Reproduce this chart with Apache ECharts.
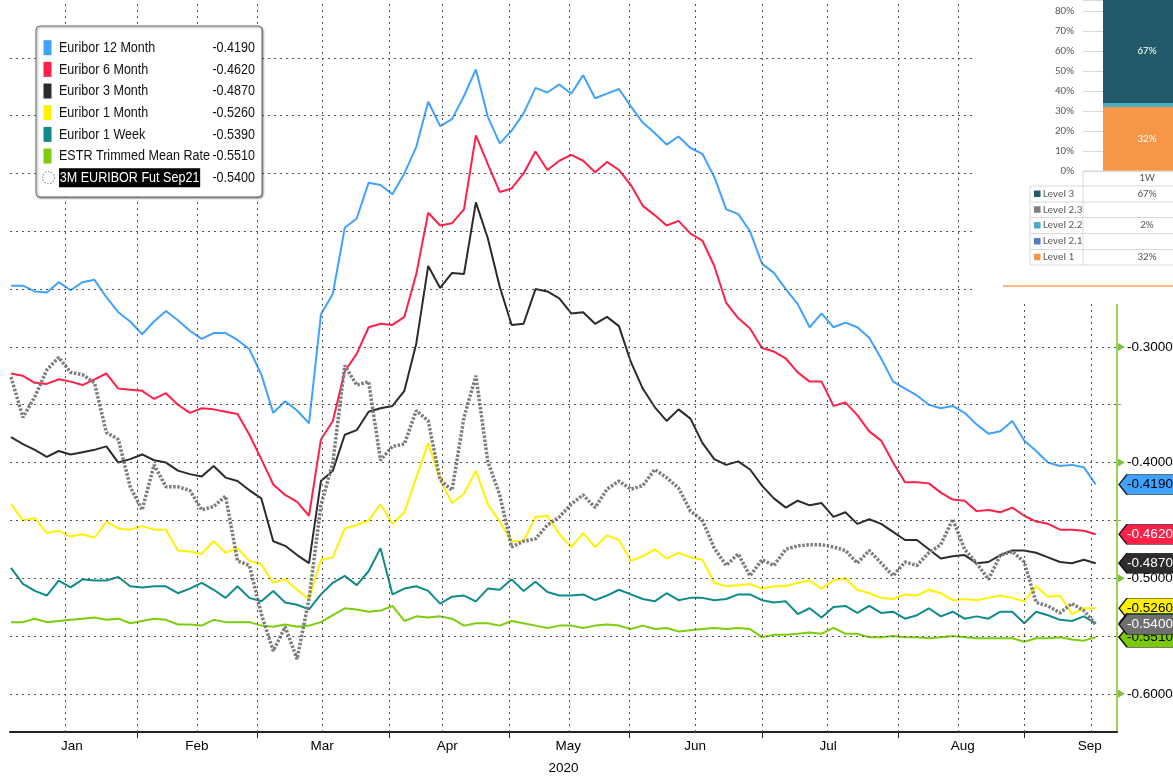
<!DOCTYPE html>
<html><head><meta charset="utf-8">
<script src="https://cdn.jsdelivr.net/npm/echarts@6/dist/echarts.min.js"></script>
<style>html,body{margin:0;padding:0;background:#fff}#c{width:1173px;height:778px}</style>
</head><body><div id="c"></div>
<script>
// trading-day index (0 = 2 Jan 2020), every second trading day
const dayIdx = [0,2,4,6,8,10,12,14,16,18,20,22,24,26,28,30,32,34,36,38,40,42,44,46,48,50,52,54,56,58,60,62,64,66,68,70,72,74,76,78,80,82,84,86,88,90,92,94,96,98,100,102,104,106,108,110,112,114,116,118,120,122,124,126,128,130,132,134,136,138,140,142,144,146,148,150,152,154,156,158,160,162,164,166,168,170,172,174,176,178,180,182];

const eur12m = [-0.247,-0.247,-0.252,-0.253,-0.244,-0.251,-0.244,-0.242,-0.257,-0.270,
 -0.278,-0.289,-0.278,-0.269,-0.277,-0.286,-0.293,-0.288,-0.288,-0.294,
 -0.302,-0.324,-0.357,-0.347,-0.355,-0.366,-0.272,-0.254,-0.197,-0.189,
 -0.158,-0.160,-0.168,-0.150,-0.127,-0.088,-0.109,-0.103,-0.083,-0.060,
 -0.101,-0.124,-0.113,-0.098,-0.076,-0.080,-0.073,-0.081,-0.065,-0.085,
 -0.081,-0.077,-0.092,-0.106,-0.115,-0.125,-0.118,-0.128,-0.133,-0.153,
 -0.181,-0.185,-0.200,-0.228,-0.236,-0.250,-0.263,-0.283,-0.271,-0.283,
 -0.279,-0.283,-0.292,-0.310,-0.330,-0.336,-0.342,-0.350,-0.353,-0.351,
 -0.357,-0.367,-0.375,-0.373,-0.364,-0.381,-0.390,-0.400,-0.403,-0.402,
 -0.404,-0.419];
const eur6m = [-0.323,-0.325,-0.331,-0.332,-0.328,-0.330,-0.333,-0.328,-0.323,-0.336,
 -0.337,-0.338,-0.345,-0.340,-0.350,-0.357,-0.353,-0.354,-0.356,-0.358,
 -0.376,-0.397,-0.419,-0.428,-0.434,-0.446,-0.380,-0.364,-0.321,-0.306,
 -0.283,-0.280,-0.281,-0.274,-0.237,-0.184,-0.195,-0.193,-0.181,-0.117,
 -0.142,-0.166,-0.163,-0.150,-0.131,-0.147,-0.139,-0.134,-0.139,-0.149,
 -0.140,-0.147,-0.160,-0.178,-0.186,-0.195,-0.191,-0.202,-0.208,-0.230,
 -0.262,-0.275,-0.284,-0.301,-0.304,-0.310,-0.322,-0.330,-0.330,-0.351,
 -0.348,-0.359,-0.373,-0.381,-0.400,-0.417,-0.417,-0.418,-0.426,-0.432,
 -0.433,-0.442,-0.441,-0.443,-0.439,-0.446,-0.451,-0.453,-0.458,-0.458,
 -0.459,-0.462];
const eur3m = [-0.378,-0.384,-0.389,-0.395,-0.390,-0.393,-0.391,-0.389,-0.386,-0.400,
 -0.397,-0.393,-0.398,-0.400,-0.407,-0.410,-0.412,-0.403,-0.413,-0.416,
 -0.424,-0.431,-0.468,-0.472,-0.480,-0.487,-0.416,-0.407,-0.376,-0.372,
 -0.356,-0.353,-0.351,-0.338,-0.297,-0.230,-0.249,-0.236,-0.237,-0.175,
 -0.206,-0.248,-0.281,-0.280,-0.250,-0.252,-0.258,-0.271,-0.270,-0.280,
 -0.274,-0.282,-0.313,-0.336,-0.352,-0.364,-0.354,-0.362,-0.383,-0.397,
 -0.402,-0.399,-0.406,-0.420,-0.431,-0.439,-0.433,-0.437,-0.435,-0.447,
 -0.443,-0.453,-0.449,-0.453,-0.460,-0.467,-0.467,-0.475,-0.483,-0.481,
 -0.480,-0.487,-0.486,-0.480,-0.476,-0.476,-0.478,-0.482,-0.486,-0.487,
 -0.484,-0.487];
const eur1m = [-0.436,-0.450,-0.448,-0.461,-0.459,-0.464,-0.462,-0.465,-0.451,-0.457,
 -0.458,-0.455,-0.458,-0.458,-0.476,-0.477,-0.479,-0.468,-0.478,-0.474,
 -0.485,-0.488,-0.504,-0.501,-0.510,-0.518,-0.484,-0.482,-0.457,-0.454,
 -0.450,-0.436,-0.453,-0.443,-0.413,-0.383,-0.415,-0.435,-0.427,-0.407,
 -0.436,-0.451,-0.468,-0.468,-0.447,-0.446,-0.462,-0.473,-0.461,-0.473,
 -0.463,-0.467,-0.485,-0.481,-0.475,-0.483,-0.478,-0.482,-0.484,-0.504,
 -0.507,-0.506,-0.505,-0.509,-0.507,-0.507,-0.504,-0.502,-0.509,-0.502,
 -0.500,-0.510,-0.513,-0.517,-0.518,-0.514,-0.515,-0.510,-0.513,-0.519,
 -0.518,-0.519,-0.517,-0.515,-0.517,-0.520,-0.507,-0.516,-0.515,-0.531,
 -0.526,-0.526];
const eur1w = [-0.491,-0.505,-0.511,-0.515,-0.502,-0.508,-0.501,-0.502,-0.502,-0.499,
 -0.507,-0.508,-0.507,-0.507,-0.513,-0.509,-0.504,-0.510,-0.517,-0.507,
 -0.517,-0.520,-0.511,-0.521,-0.523,-0.527,-0.514,-0.504,-0.498,-0.506,
 -0.494,-0.474,-0.514,-0.509,-0.507,-0.511,-0.522,-0.516,-0.515,-0.520,
 -0.509,-0.510,-0.501,-0.511,-0.503,-0.512,-0.515,-0.515,-0.514,-0.519,
 -0.515,-0.510,-0.514,-0.518,-0.520,-0.513,-0.519,-0.517,-0.517,-0.519,
 -0.518,-0.514,-0.514,-0.519,-0.521,-0.520,-0.531,-0.526,-0.534,-0.525,
 -0.524,-0.530,-0.524,-0.530,-0.529,-0.535,-0.532,-0.526,-0.533,-0.529,
 -0.535,-0.533,-0.535,-0.529,-0.529,-0.539,-0.529,-0.532,-0.536,-0.537,
 -0.533,-0.539];
const estr = [-0.538,-0.538,-0.535,-0.538,-0.537,-0.536,-0.535,-0.534,-0.536,-0.535,
 -0.539,-0.537,-0.535,-0.536,-0.540,-0.540,-0.541,-0.536,-0.538,-0.538,
 -0.538,-0.541,-0.542,-0.540,-0.542,-0.541,-0.538,-0.532,-0.526,-0.527,
 -0.529,-0.528,-0.524,-0.537,-0.533,-0.534,-0.533,-0.535,-0.541,-0.539,
 -0.539,-0.541,-0.537,-0.539,-0.541,-0.543,-0.541,-0.541,-0.543,-0.541,
 -0.540,-0.541,-0.544,-0.541,-0.544,-0.543,-0.546,-0.545,-0.544,-0.543,
 -0.544,-0.543,-0.544,-0.551,-0.549,-0.549,-0.548,-0.547,-0.548,-0.543,
 -0.548,-0.548,-0.551,-0.551,-0.550,-0.551,-0.551,-0.552,-0.551,-0.550,
 -0.551,-0.552,-0.552,-0.552,-0.552,-0.555,-0.552,-0.552,-0.551,-0.553,
 -0.554,-0.551];
const fut3m = [-0.326,-0.361,-0.343,-0.320,-0.309,-0.322,-0.324,-0.331,-0.374,-0.380,
 -0.421,-0.441,-0.402,-0.421,-0.421,-0.424,-0.441,-0.438,-0.429,-0.485,
 -0.489,-0.531,-0.563,-0.542,-0.570,-0.518,-0.437,-0.400,-0.316,-0.333,
 -0.330,-0.398,-0.386,-0.384,-0.355,-0.364,-0.415,-0.424,-0.361,-0.325,
 -0.399,-0.428,-0.473,-0.468,-0.466,-0.454,-0.447,-0.436,-0.428,-0.439,
 -0.423,-0.416,-0.423,-0.420,-0.406,-0.413,-0.422,-0.442,-0.450,-0.474,
 -0.489,-0.479,-0.498,-0.484,-0.489,-0.475,-0.472,-0.471,-0.471,-0.473,
 -0.476,-0.487,-0.476,-0.487,-0.498,-0.486,-0.489,-0.478,-0.471,-0.449,
 -0.475,-0.487,-0.501,-0.480,-0.477,-0.486,-0.521,-0.524,-0.530,-0.522,
 -0.528,-0.540];

const seriesNames = ['Euribor 12 Month','Euribor 6 Month','Euribor 3 Month','Euribor 1 Month','Euribor 1 Week','ESTR Trimmed Mean Rate','3M EURIBOR Fut Sep21'];
const seriesData = [eur12m, eur6m, eur3m, eur1m, eur1w, estr, fut3m];
const seriesColors = ['#40a2ff','#ff2147','#2b2b2b','#fff200','#0f8b8b','#7ccd0c','#7d7d7d'];
const tagColors = ['#40a2ff','#ff2147','#2d2d2d','#fff200','#0f8b8b','#7cc80a','#6f6f6f'];
const tagTextColors = ['#000','#fff','#fff','#000','#fff','#000','#fff'];
const seriesZ = [2, 2, 2, 2, 2, 3, 4];
const tagZ = [5, 5, 5, 5, 5, 6, 8];

const monthNames = ['Jan','Feb','Mar','Apr','May','Jun','Jul','Aug','Sep'];
const monthLabelIdx = [10.2,31.2,52.2,73.2,93.5,114.8,137.1,159.7,181.0];
const monthBoundaryIdx = [21.1,41.3,63.4,83.6,103.7,126.0,148.8,170.0];
const midMonthIdx = [9.1,31.2,52.3,72.3,93.6,114.8,136.9,158.9,181.2];
const yLabelVals = [-0.3,-0.4,-0.5,-0.6];
const yMinorTicks = [-0.25,-0.35,-0.45,-0.55];
const yGridVals = [-0.05,-0.10,-0.15,-0.20,-0.25,-0.30,-0.35,-0.40,-0.45,-0.50,-0.55,-0.60];

const levelNames = ['Level 3','Level 2.3','Level 2.2','Level 2.1','Level 1'];
const levelValues = [67, null, 2, null, 32];
const levelColors = ['#235a69','#7f7f7f','#4bacc6','#4f81bd','#f79646'];
const insetCategory = '1W';

const X_MIN = -0.17, X_MAX = 185.57, Y_MIN = -0.633, Y_MAX = 0;
const FONT = "'Liberation Sans', Arial, sans-serif";
const IFONT = "Carlito, Lato, 'Open Sans', sans-serif";
const GRID_CLR = '#555';
const AXIS_GREEN = '#9fd356';
const NARROW = 0.81;

const chart = echarts.init(document.getElementById('c'), null, {renderer: 'canvas'});

const series = [];
series.push({
  type: 'line', name: '_grid', data: [], z: 1, silent: true, xAxisIndex: 0, yAxisIndex: 0,
  markLine: {
    silent: true, symbol: ['none','none'], animation: false,
    label: {show: false}, emphasis: {disabled: true},
    lineStyle: {type: [2, 4], color: GRID_CLR, width: 1},
    data: yGridVals.map(v => ({yAxis: v})).concat(monthBoundaryIdx.concat(midMonthIdx).map(v => ({xAxis: v})))
  },
  markPoint: {
    silent: true, animation: false, z: 4,
    symbol: 'path://M0,0L10,5L0,10Z', symbolSize: [7, 8], symbolOffset: [4.5, 0],
    itemStyle: {color: '#7cc242'}, label: {show: false},
    data: yLabelVals.map(v => ({coord: [X_MAX, v]}))
  }
});

seriesNames.forEach((name, k) => {
  const arr = seriesData[k];
  const last = arr[arr.length - 1];
  const isFut = k === 6;
  series.push({
    type: 'line', name, xAxisIndex: 0, yAxisIndex: 0, z: seriesZ[k],
    data: dayIdx.map((d, i) => [d, arr[i]]),
    symbol: 'none', showSymbol: false, silent: true,
    lineStyle: isFut ? {color: seriesColors[k], width: 3.5, type: [2.5, 1.6]} : {color: seriesColors[k], width: 2},
    itemStyle: {color: seriesColors[k]},
    markPoint: {
      silent: true, animation: false, z: tagZ[k],
      symbol: 'path://M0,10L8,0L62,0L62,20L8,20Z', symbolSize: [62, 20], symbolOffset: [33, 0],
      itemStyle: {color: tagColors[k], borderColor: '#111', borderWidth: 1},
      label: {show: true, position: 'inside', offset: [0, 0], formatter: last.toFixed(4),
        color: tagTextColors[k], fontSize: 13.5, fontFamily: FONT},
      data: [{coord: [X_MAX, last], value: last}]
    }
  });
});

for (let i = levelNames.length - 1; i >= 0; i--) {
  const v = levelValues[i];
  series.push({
    type: 'bar', name: levelNames[i], xAxisIndex: 1, yAxisIndex: 1, stack: 'lv', z: 45,
    barWidth: 88, silent: true,
    data: [v == null ? 0 : v / 100],
    itemStyle: {color: levelColors[i]},
    label: {show: v != null && v >= 10, position: 'inside', formatter: v + '%', color: '#fff', fontSize: 11, fontFamily: IFONT}
  });
}

const g = [];
g.push({type: 'rect', z: 40, silent: true, shape: {x: 975, y: 0, width: 198, height: 304}, style: {fill: '#fff'}});
g.push({type: 'line', z: 50, silent: true, shape: {x1: 1003, y1: 286, x2: 1173, y2: 286}, style: {stroke: '#fbb88a', lineWidth: 2}});
const rowsY = [186, 202, 217.5, 233.5, 249.5, 265];
rowsY.forEach(y => g.push({type: 'line', z: 50, silent: true, shape: {x1: 1030, y1: y, x2: 1173, y2: y}, style: {stroke: '#d9d9d9', lineWidth: 1}}));
g.push({type: 'line', z: 50, silent: true, shape: {x1: 1083, y1: 171, x2: 1173, y2: 171}, style: {stroke: '#d9d9d9', lineWidth: 1}});
g.push({type: 'line', z: 50, silent: true, shape: {x1: 1083, y1: 171, x2: 1083, y2: 265}, style: {stroke: '#d9d9d9', lineWidth: 1}});
g.push({type: 'line', z: 50, silent: true, shape: {x1: 1030, y1: 186, x2: 1030, y2: 265}, style: {stroke: '#d9d9d9', lineWidth: 1}});
g.push({type: 'text', z: 51, silent: true, x: 1147, y: 178.5, style: {text: insetCategory, fill: '#595959', font: '11px ' + IFONT, textAlign: 'center', textVerticalAlign: 'middle'}});
levelNames.forEach((n, i) => {
  const cy = (rowsY[i] + rowsY[i + 1]) / 2;
  g.push({type: 'rect', z: 51, silent: true, shape: {x: 1034, y: cy - 3.5, width: 6.5, height: 6.5}, style: {fill: levelColors[i]}});
  g.push({type: 'text', z: 51, silent: true, x: 1043, y: cy, style: {text: n, fill: '#595959', font: '11px ' + IFONT, textAlign: 'left', textVerticalAlign: 'middle'}});
  if (levelValues[i] != null) g.push({type: 'text', z: 51, silent: true, x: 1147, y: cy, style: {text: levelValues[i] + '%', fill: '#595959', font: '11px ' + IFONT, textAlign: 'center', textVerticalAlign: 'middle'}});
});

g.push({type: 'rect', z: 50, silent: true, shape: {x: 36, y: 26, width: 226, height: 171, r: 4},
  style: {fill: '#fff', stroke: '#6f6f6f', lineWidth: 1, shadowBlur: 2, shadowOffsetX: 1, shadowOffsetY: 1, shadowColor: 'rgba(0,0,0,0.45)'}});
seriesNames.forEach((n, k) => {
  const cy = 47.7 + k * 21.67;
  const last = seriesData[k][seriesData[k].length - 1];
  if (k < 6) {
    g.push({type: 'rect', z: 51, silent: true, shape: {x: 43.5, y: cy - 7.5, width: 8, height: 15}, style: {fill: seriesColors[k]}});
    g.push({type: 'text', z: 51, silent: true, x: 59, y: cy, scaleX: NARROW, style: {text: n, fill: '#111', font: '15.5px ' + FONT, textAlign: 'left', textVerticalAlign: 'middle'}});
  } else {
    g.push({type: 'circle', z: 51, silent: true, shape: {cx: 48.5, cy: cy, r: 6}, style: {fill: 'none', stroke: '#999', lineWidth: 1.2, lineDash: [1.5, 1.5]}});
    g.push({type: 'text', z: 51, silent: true, x: 59, y: cy, scaleX: NARROW, style: {text: n, fill: '#fff', backgroundColor: '#000', padding: [2, 1, 1, 1], font: '15.5px ' + FONT, textAlign: 'left', textVerticalAlign: 'middle'}});
  }
  g.push({type: 'text', z: 51, silent: true, x: 255, y: cy, scaleX: NARROW, style: {text: last.toFixed(4), fill: '#111', font: '15.5px ' + FONT, textAlign: 'right', textVerticalAlign: 'middle'}});
});

const option = {
  animation: false,
  backgroundColor: '#fff',
  grid: [
    {left: 10, right: 56, top: 0, bottom: 46, containLabel: false, outerBoundsMode: 'none'},
    {left: 1083, top: 0, width: 128, height: 171, containLabel: false, outerBoundsMode: 'none', z: 45}
  ],
  xAxis: [
    {type: 'value', gridIndex: 0, min: X_MIN, max: X_MAX,
     axisLine: {show: true, onZero: false, lineStyle: {color: '#222', width: 2}},
     axisTick: {show: true, customValues: monthBoundaryIdx, length: 6, lineStyle: {color: '#222'}},
     axisLabel: {show: true, customValues: monthLabelIdx, margin: 7, color: '#000', fontSize: 13.5, fontFamily: FONT,
       formatter: v => { const i = monthLabelIdx.findIndex(m => Math.abs(m - v) < 1e-6); return i >= 0 ? monthNames[i] : ''; }},
     splitLine: {show: false},
     name: '2020', nameLocation: 'middle', nameGap: 29, nameTextStyle: {color: '#000', fontSize: 13.5, fontFamily: FONT}},
    {type: 'category', gridIndex: 1, data: [insetCategory], show: false, z: 45}
  ],
  yAxis: [
    {type: 'value', gridIndex: 0, position: 'right', min: Y_MIN, max: Y_MAX,
     axisLine: {show: true, onZero: false, lineStyle: {color: AXIS_GREEN, width: 2}},
     axisTick: {show: true, customValues: yMinorTicks, length: 4, lineStyle: {color: '#7cc242', width: 1}},
     axisLabel: {show: true, customValues: yLabelVals, margin: 10, color: '#000', fontSize: 13.5, fontFamily: FONT,
       formatter: v => v.toFixed(4)},
     splitLine: {show: false}},
    {type: 'value', gridIndex: 1, min: 0, max: 0.855, interval: 0.1, z: 45,
     axisLine: {show: false}, axisTick: {show: false},
     axisLabel: {margin: 9, color: '#595959', fontSize: 11, fontFamily: IFONT, showMaxLabel: false,
       formatter: v => Math.abs(v * 10 - Math.round(v * 10)) < 1e-6 ? Math.round(v * 100) + '%' : ''},
     splitLine: {show: true, lineStyle: {color: '#d9d9d9', width: 1}}}
  ],
  series,
  graphic: {elements: g}
};
chart.setOption(option);
</script>
</body></html>
